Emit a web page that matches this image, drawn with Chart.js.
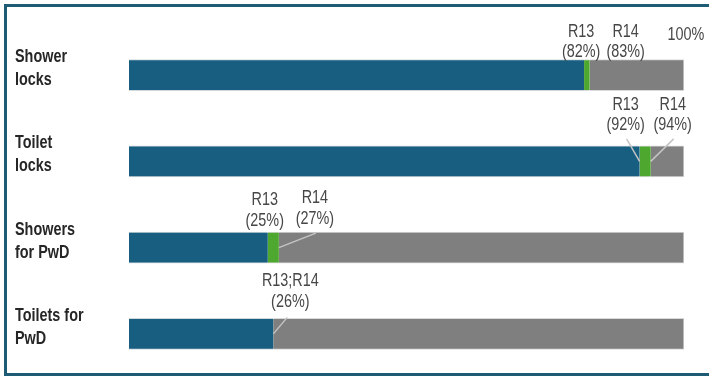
<!DOCTYPE html>
<html>
<head>
<meta charset="utf-8">
<script src="https://cdn.jsdelivr.net/npm/chart.js@4"></script>
<style>
  html, body { margin: 0; padding: 0; background: #fff; overflow: hidden; }
  canvas { display: block; }
</style>
</head>
<body>
<canvas id="chart" width="709" height="378"></canvas>
<script>
// categories and survey round values (% of sites)
const categories = [['Shower', 'locks'], ['Toilet', 'locks'], ['Showers', 'for PwD'], ['Toilets for', 'PwD']];
const r13 = [82, 92, 25, 26];
const r14 = [83, 94, 27, 26];
const maxValue = 100;

// stacked pieces: R13, change to R14, remainder
const gain = r14.map((v, i) => v - r13[i]);
const rest = r14.map(v => maxValue - v);

const textFont = '18px "Liberation Sans", Arial, sans-serif';
const catFont = 'bold 18px "Liberation Sans", Arial, sans-serif';
const narrow = 0.8; // squeeze to look like a narrow face

// annotation placement (pixel offsets from the value on the bar)
const notes = [
    [{ lines: ['R13', `(${r13[0]}%)`], v: r13[0], dx: -3, y: -28 },
     { lines: ['R14', `(${r14[0]}%)`], v: r14[0], dx: 36, y: -28 },
     { lines: [`${maxValue}%`], v: maxValue, dx: 2, y: -25 }],
    [{ lines: ['R13', `(${r13[1]}%)`], v: r13[1], dx: -14, y: -41, lead: [-13, -7] },
     { lines: ['R14', `(${r14[1]}%)`], v: r14[1], dx: 22, y: -41, lead: [23, -7] }],
    [{ lines: ['R13', `(${r13[2]}%)`], v: r13[2], dx: -3, y: -32 },
     { lines: ['R14', `(${r14[2]}%)`], v: r14[2], dx: 36, y: -34, lead: [37, 1] }],
    [{ lines: ['R13;R14', `(${r13[3]}%)`], v: r13[3], dx: 17, y: -37, lead: [14, -1] }],
];

function squeezedText(ctx, text, x, y) {
    ctx.save();
    ctx.translate(x, y);
    ctx.scale(narrow, 1);
    ctx.fillText(text, 0, 0);
    ctx.restore();
}

const framePlugin = {
    id: 'frame',
    beforeDraw(chart) {
        const ctx = chart.ctx;
        ctx.save();
        ctx.strokeStyle = '#1d5c74';
        ctx.lineWidth = 3;
        ctx.beginPath();
        ctx.moveTo(chart.width + 2, 5.5);
        ctx.lineTo(5.5, 5.5);
        ctx.lineTo(5.5, 374.5);
        ctx.lineTo(chart.width + 2, 374.5);
        ctx.stroke();
        ctx.restore();
    }
};

const labelPlugin = {
    id: 'labels',
    afterDraw(chart) {
        const ctx = chart.ctx;
        const xs = chart.scales.x;
        const ys = chart.scales.y;
        ctx.save();

        // category names on the left
        ctx.font = catFont;
        ctx.fillStyle = '#262626';
        ctx.textAlign = 'left';
        ctx.textBaseline = 'middle';
        categories.forEach((lines, i) => {
            const cy = ys.getPixelForValue(i);
            squeezedText(ctx, lines[0], 15, cy - 18);
            squeezedText(ctx, lines[1], 15, cy + 5);
        });

        // value notes and leader lines
        ctx.font = textFont;
        ctx.fillStyle = '#474747';
        ctx.textAlign = 'center';
        notes.forEach((list, i) => {
            const cy = ys.getPixelForValue(i);
            const top = cy - 15.5;
            list.forEach(n => {
                const px = xs.getPixelForValue(n.v);
                n.lines.forEach((t, k) => {
                    squeezedText(ctx, t, px + n.dx, top + n.y + k * 20.5);
                });
                if (n.lead) {
                    ctx.strokeStyle = '#c4c4c4';
                    ctx.lineWidth = 1.5;
                    ctx.beginPath();
                    ctx.moveTo(px + n.lead[0], top + n.lead[1]);
                    ctx.lineTo(px, cy);
                    ctx.stroke();
                }
            });
        });
        ctx.restore();
    }
};

const edge = { top: 1, bottom: 1, left: 0, right: 0 };

new Chart(document.getElementById('chart'), {
    type: 'bar',
    data: {
        labels: categories.map(c => c.join(' ')),
        datasets: [
            { label: 'R13', data: r13, backgroundColor: '#175e80', borderColor: '#cfd8dc', borderWidth: edge, borderSkipped: false, barThickness: 31 },
            { label: 'R14', data: gain, backgroundColor: '#4ea72e', borderColor: '#d9d9d9', borderWidth: edge, borderSkipped: false, barThickness: 31 },
            { label: 'Rest', data: rest, backgroundColor: '#7f7f7f', borderColor: '#d9d9d9', borderWidth: { top: 1, bottom: 1, left: 0, right: 1 }, borderSkipped: false, barThickness: 31 },
        ]
    },
    options: {
        indexAxis: 'y',
        responsive: false,
        animation: false,
        devicePixelRatio: 1,
        layout: { padding: { left: 129, right: 25, top: 32, bottom: 1 } },
        plugins: {
            legend: { display: false },
            tooltip: { enabled: false },
        },
        scales: {
            x: { stacked: true, min: 0, max: maxValue, display: false },
            y: { stacked: true, display: false },
        },
    },
    plugins: [framePlugin, labelPlugin],
});
</script>
</body>
</html>
